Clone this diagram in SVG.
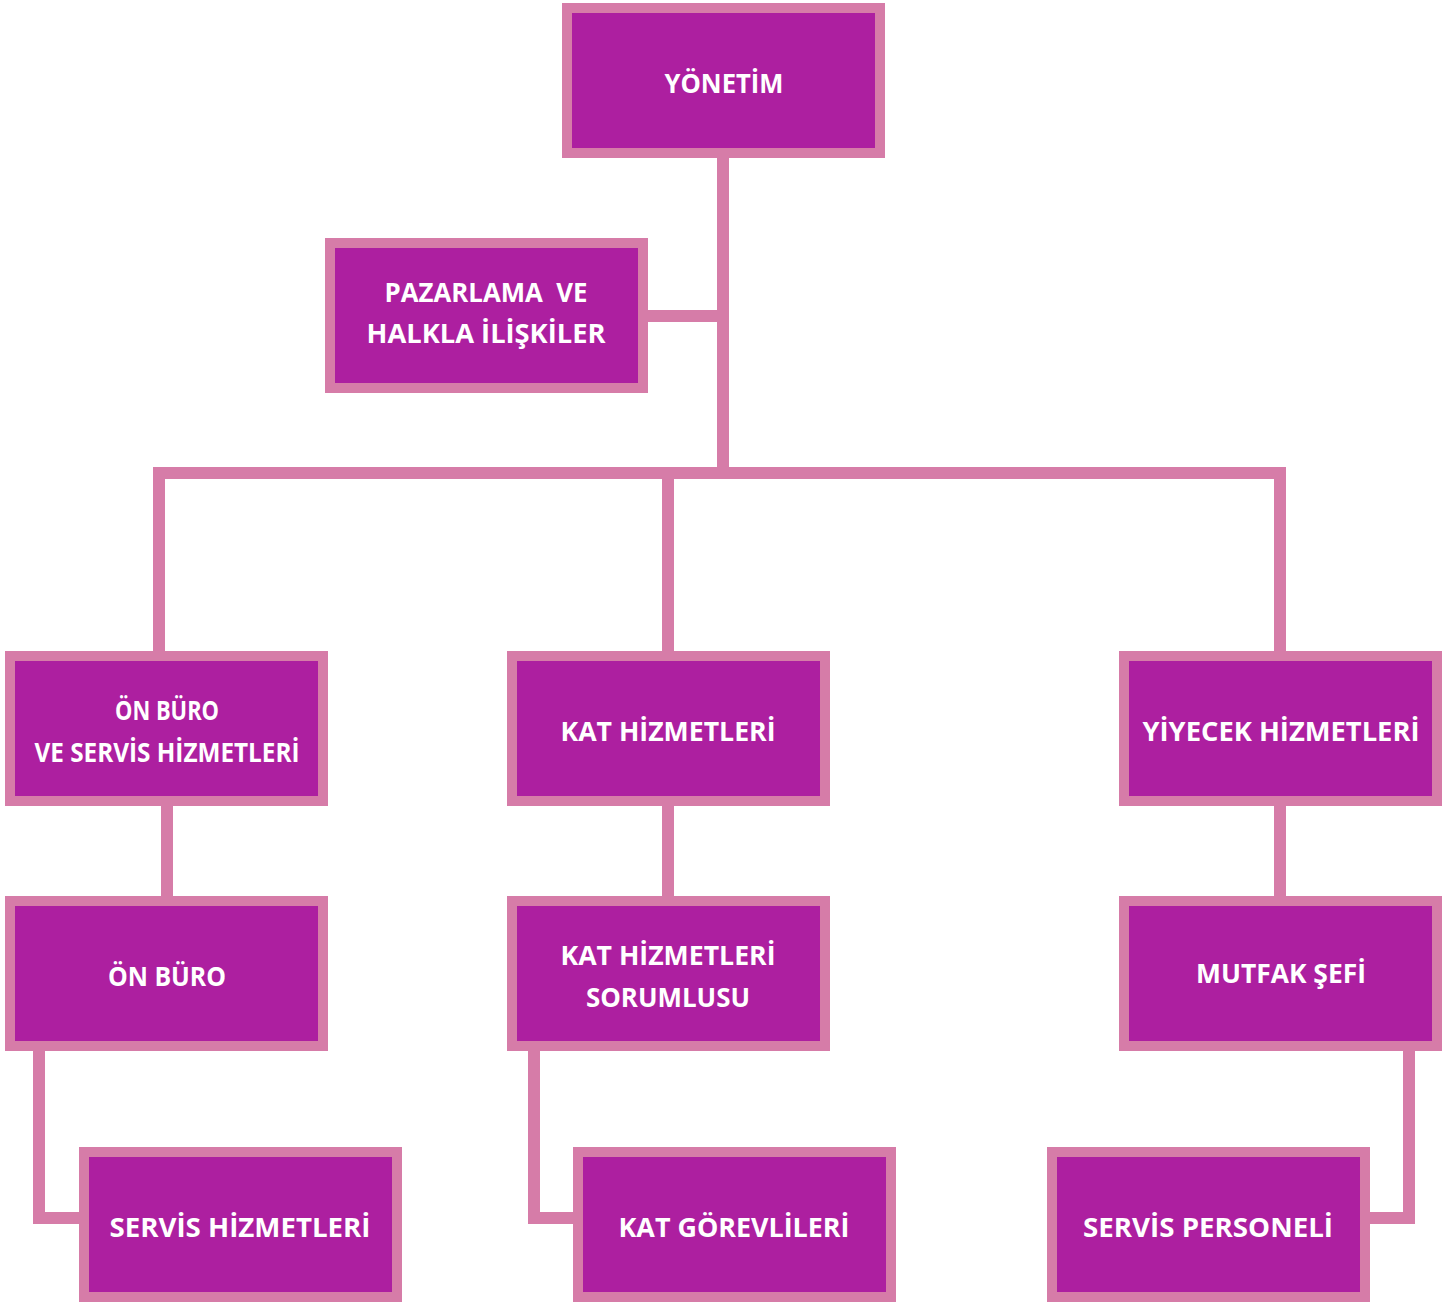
<svg xmlns="http://www.w3.org/2000/svg" width="1448" height="1302" viewBox="0 0 1448 1302">
<style>
.box{fill:#ad1fa0;stroke:#d67ca8;stroke-width:10}
.t{fill:#ffffff;font-family:"Open Sans","DejaVu Sans",sans-serif;font-weight:700;font-size:27px;text-anchor:middle}
.c{fill:none;stroke:#d67ca8;stroke-width:12;stroke-linecap:butt;stroke-linejoin:miter}
</style>
<rect width="1448" height="1302" fill="#ffffff"/>
<g id="connectors">
<line class="c" x1="723" y1="150" x2="723" y2="479"/>
<line class="c" x1="640" y1="316" x2="729" y2="316"/>
<line class="c" x1="153" y1="473" x2="1286" y2="473"/>
<line class="c" x1="159" y1="467" x2="159" y2="656"/>
<line class="c" x1="668" y1="467" x2="668" y2="656"/>
<line class="c" x1="1280" y1="467" x2="1280" y2="656"/>
<line class="c" x1="167" y1="800" x2="167" y2="901"/>
<line class="c" x1="668" y1="800" x2="668" y2="901"/>
<line class="c" x1="1280" y1="800" x2="1280" y2="901"/>
<path class="c" d="M39,1039 V1218 H84" stroke-linecap="square"/>
<path class="c" d="M534,1039 V1218 H578" stroke-linecap="square"/>
<path class="c" d="M1409,1039 V1218 H1365" stroke-linecap="square"/>
</g>
<g id="yonetim"><rect class="box" x="567" y="8" width="313" height="145"/><text class="t" x="724" y="93" textLength="119" lengthAdjust="spacingAndGlyphs">YÖNETİM</text></g>
<g id="pazarlama"><rect class="box" x="330" y="243" width="313" height="145"/><text class="t" x="486" y="302" textLength="203" lengthAdjust="spacingAndGlyphs" xml:space="preserve" style="white-space:pre">PAZARLAMA  VE</text><text class="t" x="486" y="343" textLength="239" lengthAdjust="spacingAndGlyphs">HALKLA İLİŞKİLER</text></g>
<g id="onburo-ve-servis"><rect class="box" x="10" y="656" width="313" height="145"/><text class="t" x="167" y="720" textLength="104" lengthAdjust="spacingAndGlyphs">ÖN BÜRO</text><text class="t" x="167" y="762" textLength="265" lengthAdjust="spacingAndGlyphs">VE SERVİS HİZMETLERİ</text></g>
<g id="kat-hizmetleri"><rect class="box" x="512" y="656" width="313" height="145"/><text class="t" x="668" y="741" textLength="215" lengthAdjust="spacingAndGlyphs">KAT HİZMETLERİ</text></g>
<g id="yiyecek-hizmetleri"><rect class="box" x="1124" y="656" width="313" height="145"/><text class="t" x="1281" y="741" textLength="277" lengthAdjust="spacingAndGlyphs">YİYECEK HİZMETLERİ</text></g>
<g id="onburo"><rect class="box" x="10" y="901" width="313" height="145"/><text class="t" x="167" y="986" textLength="118" lengthAdjust="spacingAndGlyphs">ÖN BÜRO</text></g>
<g id="kat-hizmetleri-sorumlusu"><rect class="box" x="512" y="901" width="313" height="145"/><text class="t" x="668" y="965" textLength="215" lengthAdjust="spacingAndGlyphs">KAT HİZMETLERİ</text><text class="t" x="668" y="1007" textLength="164" lengthAdjust="spacingAndGlyphs">SORUMLUSU</text></g>
<g id="mutfak-sefi"><rect class="box" x="1124" y="901" width="313" height="145"/><text class="t" x="1281" y="983" textLength="170" lengthAdjust="spacingAndGlyphs">MUTFAK ŞEFİ</text></g>
<g id="servis-hizmetleri"><rect class="box" x="84" y="1152" width="313" height="145"/><text class="t" x="240" y="1237" textLength="261" lengthAdjust="spacingAndGlyphs">SERVİS HİZMETLERİ</text></g>
<g id="kat-gorevlileri"><rect class="box" x="578" y="1152" width="313" height="145"/><text class="t" x="734" y="1237" textLength="231" lengthAdjust="spacingAndGlyphs">KAT GÖREVLİLERİ</text></g>
<g id="servis-personeli"><rect class="box" x="1052" y="1152" width="313" height="145"/><text class="t" x="1208" y="1237" textLength="250" lengthAdjust="spacingAndGlyphs">SERVİS PERSONELİ</text></g>
</svg>
